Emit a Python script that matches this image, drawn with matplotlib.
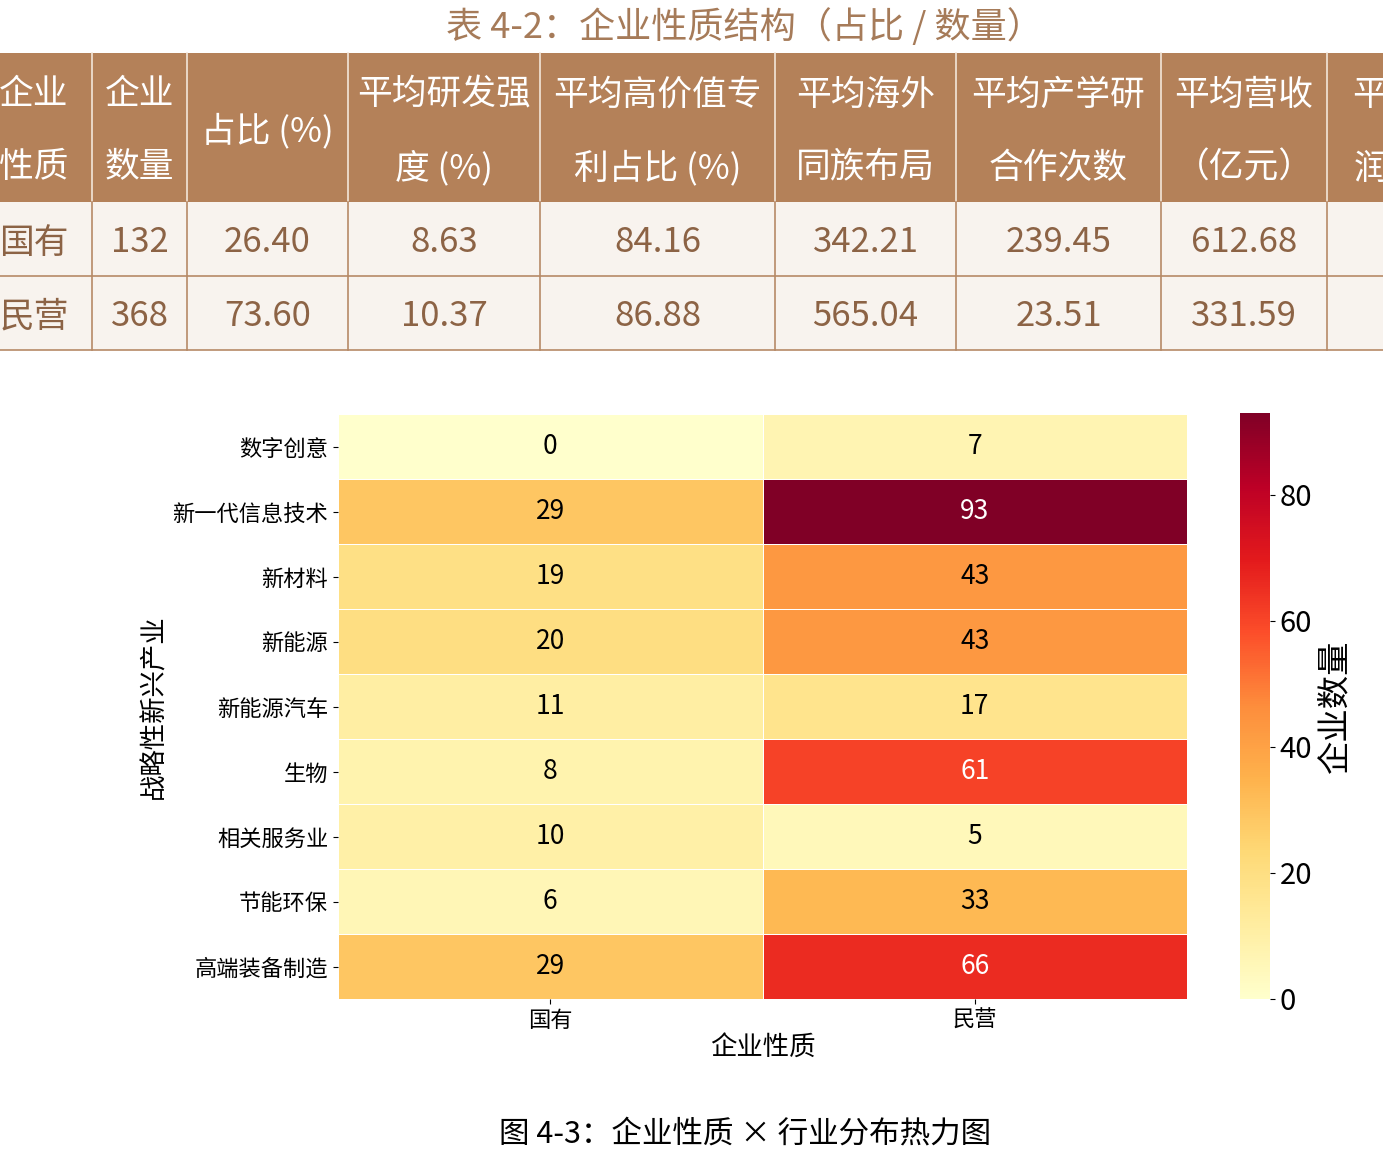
import numpy as np
import matplotlib.pyplot as plt
from matplotlib.patches import Rectangle

plt.rcParams['font.family'] = ['Noto Sans CJK SC', 'DejaVu Sans']

# ---- table data ----
table_title = "表 4-2：企业性质结构（占比 / 数量）"
table_headers = [
    ["企业", "性质"],
    ["企业", "数量"],
    ["占比 (%)"],
    ["平均研发强", "度 (%)"],
    ["平均高价值专", "利占比 (%)"],
    ["平均海外", "同族布局"],
    ["平均产学研", "合作次数"],
    ["平均营收", "（亿元）"],
    ["平均净利", "润 (亿元)"],
]
ownership = ["国有", "民营"]
firm_count = ["132", "368"]
share_pct = ["26.40", "73.60"]
rd_intensity = ["8.63", "10.37"]
hv_patent = ["84.16", "86.88"]
overseas_family = ["342.21", "565.04"]
iur_coop = ["239.45", "23.51"]
revenue = ["612.68", "331.59"]

# ---- heatmap data ----
industries = ["数字创意", "新一代信息技术", "新材料", "新能源", "新能源汽车",
              "生物", "相关服务业", "节能环保", "高端装备制造"]
nature = ["国有", "民营"]
state_owned = [0, 29, 19, 20, 11, 8, 10, 6, 29]
private = [7, 93, 43, 43, 17, 61, 5, 33, 66]
fig_caption = "图 4-3：企业性质 × 行业分布热力图"

W, H = 1383, 1171
fig = plt.figure(figsize=(W / 100, H / 100), dpi=100)

# overlay axes in pixel coords for the table and captions
bg = fig.add_axes([0, 0, 1, 1])
bg.set_xlim(0, W)
bg.set_ylim(H, 0)
bg.axis("off")

head_color = "#b48159"
cell_color = "#f8f3ee"
line_color = "#b68a67"
text_color = "#8c6345"

# the table is wider than the figure: first and last columns are cropped
col_edges = [-24, 92, 187, 348, 540, 775, 956, 1161, 1327, 1517]
head_top, head_bot = 53, 202
row_edges = [202, 276, 350]

bg.text(744, 27, table_title, ha="center", va="center", fontsize=26,
        color="#a67b59")

rows = list(zip(ownership, firm_count, share_pct, rd_intensity, hv_patent,
                overseas_family, iur_coop, revenue))

for j, hdr in enumerate(table_headers):
    x0, x1 = col_edges[j], col_edges[j + 1]
    xc = (x0 + x1) / 2
    bg.add_patch(Rectangle((x0, head_top), x1 - x0, head_bot - head_top,
                           facecolor=head_color, edgecolor="none"))
    if len(hdr) == 1:
        bg.text(xc, 131, hdr[0], ha="center", va="center", fontsize=25,
                color="white")
    else:
        bg.text(xc, 95, hdr[0], ha="center", va="center", fontsize=25,
                color="white")
        bg.text(xc, 168, hdr[1], ha="center", va="center", fontsize=25,
                color="white")
    for i in range(2):
        y0, y1 = row_edges[i], row_edges[i + 1]
        bg.add_patch(Rectangle((x0, y0), x1 - x0, y1 - y0,
                               facecolor=cell_color, edgecolor="none"))
        if j < len(rows[i]):
            bg.text(xc, (y0 + y1) / 2 + 4, rows[i][j], ha="center",
                    va="center", fontsize=25, color=text_color)

# grid lines
for x in col_edges[1:-1]:
    bg.plot([x, x], [head_top, head_bot], color="#f3e6da", lw=1.2)
    bg.plot([x, x], [head_bot, row_edges[-1]], color=line_color, lw=1.2)
for y in row_edges[1:]:
    bg.plot([-30, W + 10], [y, y], color=line_color, lw=1.2)

bg.text(745, 1134, fig_caption, ha="center", va="center", fontsize=22,
        color="black")

# ---- heatmap ----
data = np.array([state_owned, private]).T
ax = fig.add_axes([338 / W, 1 - 999 / H, 849 / W, 585 / H])
cax = fig.add_axes([1240 / W, 1 - 999 / H, 30 / W, 586 / H])

cmap = plt.get_cmap("YlOrRd")
vmin, vmax = 0, data.max()
mesh = ax.pcolormesh(data, cmap=cmap, vmin=vmin, vmax=vmax,
                     edgecolors="white", linewidth=0.5)
ax.set_xlim(0, data.shape[1])
ax.set_ylim(data.shape[0], 0)
for s in ax.spines.values():
    s.set_visible(False)

norm = plt.Normalize(vmin, vmax)
for i in range(data.shape[0]):
    for j in range(data.shape[1]):
        v = data[i, j]
        r, g, b, _ = cmap(norm(v))
        lum = 0.2126 * r + 0.7152 * g + 0.0722 * b
        ax.text(j + 0.5, i + 0.5, str(v), ha="center", va="center",
                fontsize=19, color="white" if lum < 0.408 else "black")

ax.set_xticks(np.arange(len(nature)) + 0.5)
ax.set_xticklabels(nature, fontsize=16)
ax.set_yticks(np.arange(len(industries)) + 0.5)
ax.set_yticklabels(industries, fontsize=16)
ax.set_xlabel("企业性质", fontsize=19, labelpad=2)
ax.set_ylabel("战略性新兴产业", fontsize=19, labelpad=4)

cb = fig.colorbar(mesh, cax=cax)
cb.outline.set_visible(False)
cb.set_ticks([0, 20, 40, 60, 80])
cb.ax.tick_params(labelsize=21)
cb.set_label("企业数量", fontsize=24, labelpad=4)

fig.savefig("out.png", dpi=100)
